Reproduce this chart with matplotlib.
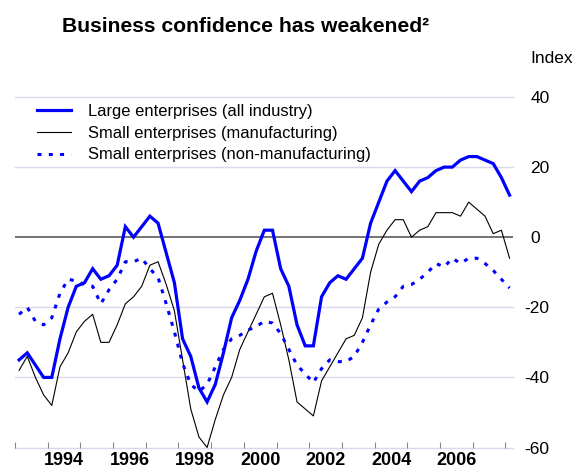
import matplotlib
matplotlib.use("Agg")
import matplotlib.pyplot as plt
import matplotlib.transforms as mtransforms
from matplotlib.ticker import FixedLocator, FuncFormatter, NullFormatter
import numpy as np

plt.rcParams['font.family'] = ['Liberation Sans', 'DejaVu Sans']
plt.rcParams['axes.unicode_minus'] = False

# Quarterly survey indices, 1993Q1 - 2008Q1
start_year = 1993
large_all = [
    -35, -33, -36.5, -40,
    -40, -29, -20, -14,
    -13, -9, -12, -11,
    -8, 3, 0, 3,
    6, 4, -4.5, -13,
    -29, -34, -43, -47,
    -42, -33, -23, -18,
    -12, -4, 2, 2,
    -9, -14, -25, -31,
    -31, -17, -13, -11,
    -12, -9, -6, 4,
    10, 16, 19, 16,
    13, 16, 17, 19,
    20, 20, 22, 23,
    23, 22, 21, 17,
    12,
]
small_manuf = [
    -38, -34, -40, -45,
    -48, -37, -33, -27,
    -24, -22, -30, -30,
    -25, -19, -17, -14,
    -8, -7, -13.5, -21,
    -35, -49, -57, -60,
    -52, -45, -40, -32,
    -27, -22, -17, -16,
    -25, -35, -47, -49,
    -51, -41, -37, -33,
    -29, -28, -23, -10,
    -2, 2, 5, 5,
    0, 2, 3, 7,
    7, 7, 6, 10,
    8, 6, 1, 2,
    -6,
]
small_nonmanuf = [
    -22, -20, -24, -25,
    -23, -16, -12, -12.5,
    -13.5, -14, -19, -15,
    -12, -7, -7, -6,
    -9, -11.5, -19, -27,
    -36, -42, -44, -42,
    -37, -32, -29, -28,
    -26.5, -25.5, -24, -24.5,
    -27.5, -32, -36.5, -39,
    -41.5, -37.5, -35, -35.5,
    -35.5, -34, -30, -25,
    -20.5, -18.5, -17, -14,
    -13.5, -12, -10, -7.5,
    -8.5, -6, -7.5, -6,
    -6, -7.5, -9.5, -12,
    -14.5,
]
series_labels = [
    "Large enterprises (all industry)",
    "Small enterprises (manufacturing)",
    "Small enterprises (non-manufacturing)",
]
year_labels = [1994, 1996, 1998, 2000, 2002, 2004, 2006]
y_ticks = [-60, -40, -20, 0, 20, 40]

n = len(large_all)
x = start_year + (np.arange(n) + 0.5) / 4.0

W, H = 586, 468
fig = plt.figure(figsize=(W / 100, H / 100), dpi=100)
ax = fig.add_axes([15 / W, 1 - 447.5 / H, (513 - 15) / W, (447.5 - 97) / H])

grid_col = "#d9d9ec"
for yv in y_ticks:
    if yv == 0:
        ax.axhline(yv, color="#5a5a5a", lw=1.2, zorder=1)
    else:
        ax.axhline(yv, color=grid_col, lw=1.0, zorder=0, clip_on=False)

blue = "#0000ff"
ax.plot(x, large_all, color=blue, lw=2.3, solid_joinstyle="miter", zorder=4,
        label=series_labels[0])
ax.plot(x, small_manuf, color="black", lw=0.8, zorder=3, label=series_labels[1])
ax.plot(x, small_nonmanuf, color=blue, lw=2.2, linestyle=(0, (1.3, 2.4)),
        dash_capstyle="butt", zorder=3, label=series_labels[2])

ax.set_xlim(1993.0, 2008.23)
ax.set_ylim(-60, 40)

for s in ax.spines.values():
    s.set_visible(False)

# Year boundaries as ticks, even years labelled mid-year
ax.xaxis.set_major_locator(FixedLocator(np.arange(1993, 2009)))
ax.xaxis.set_major_formatter(NullFormatter())
ax.xaxis.set_minor_locator(FixedLocator([yr + 0.5 for yr in year_labels]))
ax.xaxis.set_minor_formatter(FuncFormatter(lambda v, p: f"{int(v)}"))
ax.tick_params(axis="x", which="major", direction="in", length=4, width=0.8,
               color="#888888")
ax.tick_params(axis="x", which="minor", length=0, pad=3.5, labelsize=13)
for lbl in ax.get_xticklabels(minor=True):
    lbl.set_fontweight("bold")

# Index scale on the right, minus signs hanging left of the digits
ax.yaxis.tick_right()
ax.yaxis.set_major_locator(FixedLocator(y_ticks))
ax.yaxis.set_major_formatter(FuncFormatter(lambda v, p: f"{int(v)}"))
ax.tick_params(axis="y", length=0, pad=12.5, labelsize=12.5)
for tick, val in zip(ax.yaxis.get_major_ticks(), y_ticks):
    if val < 0:
        tick.label2.set_transform(tick.label2.get_transform() +
                                  mtransforms.ScaledTranslation(-6 / 100, 0, fig.dpi_scale_trans))

fig.text(530 / W, 1 - 58.5 / H, "Index", fontsize=12.5, ha="left", va="center")
fig.text(246 / W, 1 - 26.5 / H, "Business confidence has weakened\u00b2",
         fontsize=15.2, fontweight="bold", ha="center", va="center")

ax.legend(loc="upper left", bbox_to_anchor=(15 / 498, 1.0),
          frameon=False, fontsize=11.9, handlelength=2.06, handletextpad=1.03,
          labelspacing=0.42, borderaxespad=0)

fig.savefig("out.png", dpi=100)
